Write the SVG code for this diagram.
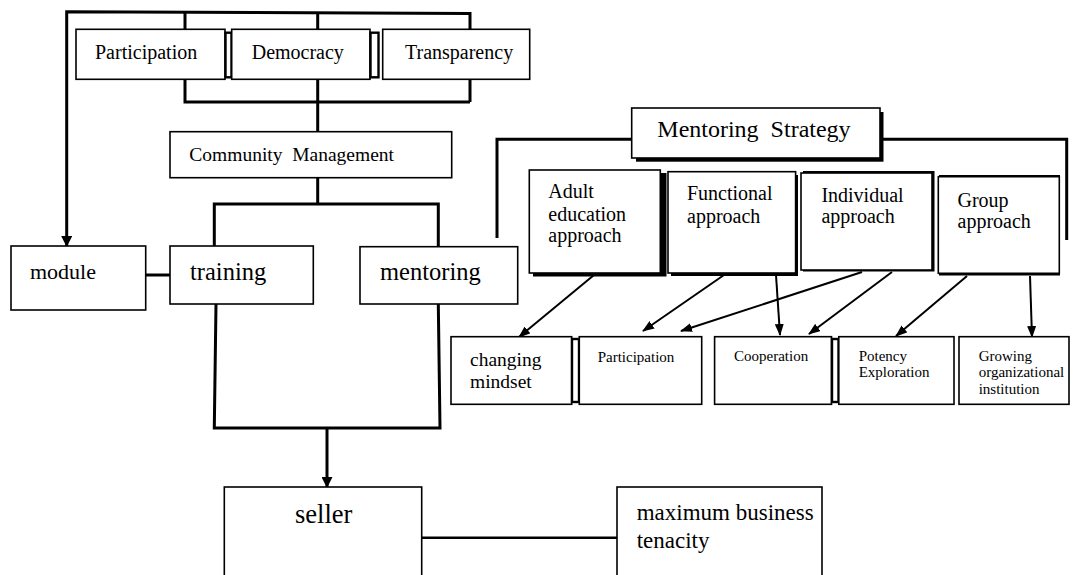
<svg xmlns="http://www.w3.org/2000/svg" width="1076" height="575" viewBox="0 0 1076 575">
<style>
.box{fill:#fff;stroke:#000;stroke-width:1.6}
.shadow{fill:#000;stroke:none}
.link{fill:#fff;stroke:#000;stroke-width:2.4}
.conn{fill:none;stroke:#000;stroke-width:3}
.arr{fill:none;stroke:#000;stroke-width:2;marker-end:url(#ah)}
.big{fill:none;stroke:#000;stroke-width:3;marker-end:url(#ahb)}
text{font-family:"Liberation Serif","Times New Roman",serif;fill:#000}
</style>
<defs>
<marker id="ah" markerUnits="userSpaceOnUse" markerWidth="12" markerHeight="9" refX="11" refY="4.5" orient="auto" viewBox="0 0 12 9">
<path d="M0,0 L12,4.5 L0,9 z" fill="#000"/>
</marker>
<marker id="ahb" markerUnits="userSpaceOnUse" markerWidth="11" markerHeight="11" refX="10" refY="5.5" orient="auto" viewBox="0 0 11 11">
<path d="M0,0 L11,5.5 L0,11 z" fill="#000"/>
</marker>
</defs>

<g id="connectors">
<path class="big" d="M470,102 L470,13.5 L66.7,11.7 L66.7,246"/>
<path class="conn" d="M185,12.5 V29.3 M317.7,12.8 V29.3"/>
<path class="conn" d="M185,79 V102 H470"/>
<path class="conn" d="M317.7,79 V132"/>
<path class="conn" d="M317.7,178 V204 M214.3,246 V204 H438.3 V247"/>
<path class="conn" d="M146,275 H170"/>
<path class="conn" d="M216,304 L214.3,428 L440,428 L438.3,304"/>
<path class="big" d="M327,428 V487"/>
<path class="conn" d="M497,238 V139.3 H632 M880,139.3 H1066.7 V240"/>
<path class="conn" style="stroke-width:2.4" d="M422,537.7 H617"/>
<path class="arr" d="M594,275 L519,337"/>
<path class="arr" d="M724,275 L643,331"/>
<path class="arr" d="M776,275 L780,335"/>
<path class="arr" d="M862,272 L681,331"/>
<path class="arr" d="M892,272 L809,334"/>
<path class="arr" d="M967,276 L896,336"/>
<path class="arr" d="M1030,276 L1032,337"/>
</g>

<g id="participation-top">
<rect class="box" x="76" y="29.3" width="149" height="50"/>
<text x="95" y="59" font-size="20">Participation</text>
</g>
<rect class="link" x="225.5" y="32.7" width="6" height="44.6"/>
<g id="democracy">
<rect class="box" x="231.7" y="29.3" width="138.3" height="50"/>
<text x="251.7" y="59" font-size="20">Democracy</text>
</g>
<rect class="link" x="370.5" y="32.7" width="8" height="44.6"/>
<g id="transparency">
<rect class="box" x="382.7" y="29.3" width="147" height="50"/>
<text x="405" y="59" font-size="20">Transparency</text>
</g>

<g id="community-management">
<rect class="box" x="170" y="131.7" width="281.7" height="46"/>
<text x="189.3" y="160.7" font-size="19.5" xml:space="preserve">Community  Management</text>
</g>

<g id="module">
<rect class="box" x="11" y="246" width="134.7" height="64"/>
<text x="30" y="279" font-size="22">module</text>
</g>
<g id="training">
<rect class="box" x="170" y="246" width="143.3" height="58"/>
<text x="190" y="280" font-size="24.5">training</text>
</g>
<g id="mentoring">
<rect class="box" x="360" y="246.7" width="157.7" height="57.3"/>
<text x="380" y="280" font-size="24.5">mentoring</text>
</g>

<g id="seller">
<rect class="box" x="224.3" y="487" width="197.4" height="100"/>
<text x="295" y="523" font-size="26.5">seller</text>
</g>
<g id="max-tenacity">
<rect class="box" x="617" y="487" width="205" height="100"/>
<text x="636.7" y="520" font-size="23">maximum business</text>
<text x="636.7" y="548" font-size="23">tenacity</text>
</g>

<g id="mentoring-strategy">
<rect class="shadow" x="636" y="112" width="247.5" height="49.7"/>
<rect class="box" x="631.7" y="108" width="248.3" height="50"/>
<text x="657.3" y="137.3" font-size="24" xml:space="preserve">Mentoring  Strategy</text>
</g>

<g id="adult">
<rect class="shadow" x="533" y="173" width="133.5" height="103.5"/>
<rect class="box" x="529.3" y="170" width="131" height="103"/>
<text x="548.3" y="198.3" font-size="20">Adult</text>
<text x="548.3" y="220.5" font-size="20">education</text>
<text x="548.3" y="242" font-size="20">approach</text>
</g>
<g id="functional">
<rect class="shadow" x="671" y="175" width="127" height="101"/>
<rect class="box" x="668" y="171.7" width="127.6" height="101.3"/>
<text x="687" y="200" font-size="20">Functional</text>
<text x="687" y="222.5" font-size="20">approach</text>
</g>
<g id="individual">
<rect class="shadow" x="803" y="171" width="131.5" height="100.5"/>
<rect class="box" x="801" y="173" width="131" height="97"/>
<text x="821.4" y="201.7" font-size="20">Individual</text>
<text x="821.4" y="223.3" font-size="20">approach</text>
</g>
<g id="group">
<rect class="shadow" x="939" y="175" width="121" height="100.5"/>
<rect class="box" x="938.3" y="176.7" width="121" height="96.6"/>
<text x="957.5" y="206.7" font-size="20">Group</text>
<text x="957.5" y="228.3" font-size="20">approach</text>
</g>

<g id="changing-mindset">
<rect class="box" x="451" y="336.7" width="120.7" height="67.6"/>
<text x="470" y="366" font-size="19.5">changing</text>
<text x="470" y="388.3" font-size="19.5">mindset</text>
</g>
<rect class="link" x="572" y="339" width="7" height="63"/>
<g id="participation-bottom">
<rect class="box" x="579.3" y="336.7" width="122.4" height="67.6"/>
<text x="597.7" y="361.7" font-size="15">Participation</text>
</g>
<g id="cooperation">
<rect class="box" x="714.6" y="336.7" width="116.9" height="67.6"/>
<text x="734" y="360.7" font-size="15">Cooperation</text>
</g>
<rect class="link" x="832" y="339" width="6.5" height="63"/>
<g id="potency">
<rect class="box" x="838.8" y="336.7" width="115.2" height="67.6"/>
<text x="858.7" y="360.7" font-size="15">Potency</text>
<text x="858.7" y="377.3" font-size="15">Exploration</text>
</g>
<g id="growing">
<rect class="box" x="959" y="336.7" width="110" height="67.6"/>
<text x="978.7" y="360.7" font-size="15">Growing</text>
<text x="978.7" y="377.3" font-size="15">organizational</text>
<text x="978.7" y="394" font-size="15">institution</text>
</g>
</svg>
